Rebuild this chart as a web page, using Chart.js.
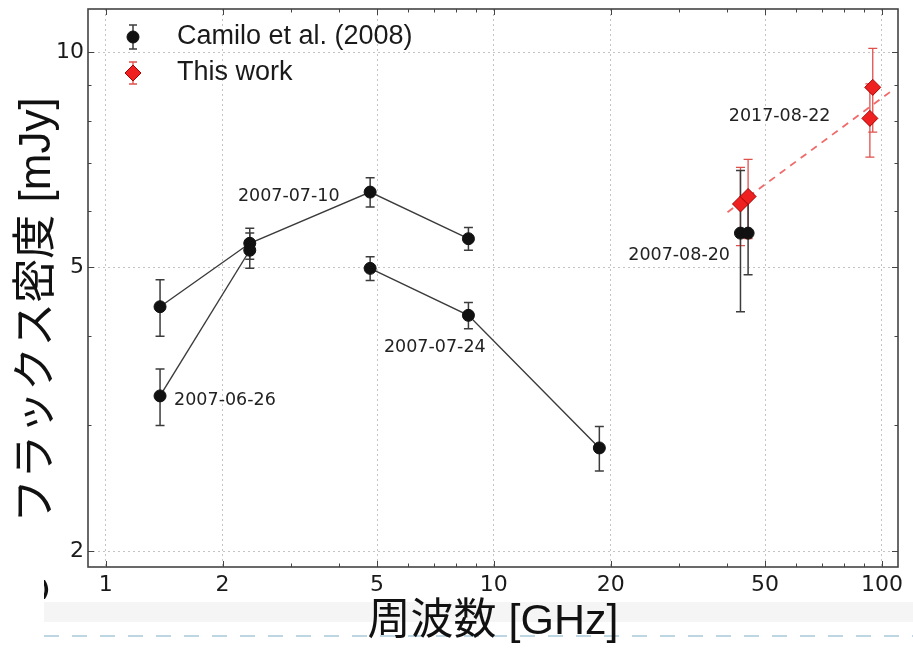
<!DOCTYPE html>
<html>
<head>
<meta charset="utf-8">
<title>フラックス密度</title>
<script src="https://cdn.jsdelivr.net/npm/chart.js@4.4.1/dist/chart.umd.min.js"></script>
<style>
  html, body { margin: 0; padding: 0; background: #fff; }
  #chart { display: block; }
</style>
</head>
<body>
<canvas id="chart" width="913" height="649"></canvas>
<script>
'use strict';

// Camilo et al. (2008), one set per observing date (GHz, mJy, +/- mJy)
var freqJun26 = [1.38, 2.35];
var fluxJun26 = [3.3, 5.28];
var errJun26 = [0.3, 0.3];

var freqJul10 = [1.38, 2.35, 4.8, 8.6];
var fluxJul10 = [4.4, 5.4, 6.37, 5.48];
var errJul10 = [0.4, 0.27, 0.3, 0.2];

var freqJul24 = [4.8, 8.6, 18.7];
var fluxJul24 = [4.98, 4.28, 2.79];
var errJul24 = [0.19, 0.18, 0.2];

var freqAug20 = [43.2, 45.2];
var fluxAug20 = [5.58, 5.58];
var errAug20 = [1.25, 0.7];

// this work, 2017-08-22
var freqThisWork = [43.2, 45.2, 93.1, 94.7];
var fluxThisWork = [6.13, 6.28, 8.08, 8.93];
var errThisWork = [0.77, 0.8, 0.95, 1.2];

// power-law fit through this work
var fitFreq = [40, 105];
var fitFlux = [5.97, 8.8];

// date labels, placed at (freq, flux)
var dateLabels = ['2007-06-26', '2007-07-10', '2007-07-24', '2007-08-20', '2017-08-22'];
var dateLabelFreq = [1.5, 2.19, 5.21, 22.2, 40.3];
var dateLabelFlux = [3.25, 6.29, 3.86, 5.19, 8.13];

var xTickLabels = [1, 2, 5, 10, 20, 50, 100];
var yTickLabels = [2, 5, 10];

var legendLabels = ['Camilo et al. (2008)', 'This work'];

function pts(xs, ys) {
  return xs.map(function (x, i) { return { x: x, y: ys[i] }; });
}

function isOn(v, list) {
  return list.some(function (t) { return Math.abs(v - t) / t < 1e-6; });
}

// minor log ticks: 2..9 times a power of ten
function isMinor(v) {
  var m = v / Math.pow(10, Math.floor(Math.log10(v) + 1e-9));
  return Math.abs(m - Math.round(m)) < 1e-6 && Math.round(m) > 1;
}

function errBar(c, x, y1, y2, cap) {
  c.beginPath();
  c.moveTo(x, y1); c.lineTo(x, y2);
  c.moveTo(x - cap, y1); c.lineTo(x + cap, y1);
  c.moveTo(x - cap, y2); c.lineTo(x + cap, y2);
  c.stroke();
}

// log scale skips a labelled value when min is just below it, so put it back
function keepLabelled(list) {
  return function (s) {
    list.forEach(function (v) {
      if (v > s.min && v < s.max && !s.ticks.some(function (t) { return isOn(t.value, [v]); })) {
        s.ticks.push({ value: v, major: false });
      }
    });
    s.ticks.sort(function (a, b) { return a.value - b.value; });
  };
}

var BLACK = '#111';
var LINE = '#3a3a3a';
var RED = '#ee2020';
var RED_EDGE = '#a80000';
var RED_ERR = '#e0504c';

var ctx = document.getElementById('chart').getContext('2d');

var blackSeries = {
  showLine: true,
  borderColor: LINE,
  borderWidth: 1.4,
  pointRadius: 6,
  pointStyle: 'circle',
  pointBackgroundColor: BLACK,
  pointBorderColor: BLACK,
  pointBorderWidth: 1,
  errorColor: '#3c3c3c',
  errorWidth: 1.5
};

function black(label, f, s, e, line) {
  return Object.assign({}, blackSeries, { label: label, data: pts(f, s), errors: e, showLine: line });
}

var decor = {
  id: 'decor',
  beforeDraw: function (chart) {
    var c = chart.ctx;
    c.save();
    c.fillStyle = '#fff';
    c.fillRect(0, 0, chart.width, chart.height);
    // faint band and dashed rule along the bottom edge
    c.fillStyle = '#f5f5f5';
    c.fillRect(44, 602, chart.width - 44, 20);
    c.strokeStyle = '#a9c9d8';
    c.lineWidth = 1.5;
    c.setLineDash([15, 13]);
    c.beginPath();
    c.moveTo(44, 636);
    c.lineTo(chart.width, 636);
    c.stroke();
    c.setLineDash([]);
    c.beginPath();
    c.rect(44, 570, 20, 40);
    c.clip();
    c.fillStyle = BLACK;
    c.font = 'bold 22px "DejaVu Sans"';
    c.textAlign = 'right';
    c.textBaseline = 'middle';
    c.fillText(')', 50, 590);
    c.restore();
  },
  beforeDatasetsDraw: function (chart) {
    var c = chart.ctx, a = chart.chartArea;
    var xs = chart.scales.x, ys = chart.scales.y;
    c.save();
    c.strokeStyle = '#444';
    c.lineWidth = 1;
    // ticks point inward, on all four sides
    xs.ticks.forEach(function (t) {
      if (t.value <= xs.min || t.value >= xs.max) return;
      var major = isOn(t.value, xTickLabels);
      if (!major && !isMinor(t.value)) return;
      var len = major ? 6 : 3.5;
      var p = Math.round(xs.getPixelForValue(t.value)) + 0.5;
      c.beginPath();
      c.moveTo(p, a.bottom); c.lineTo(p, a.bottom - len);
      c.moveTo(p, a.top); c.lineTo(p, a.top + len);
      c.stroke();
    });
    ys.ticks.forEach(function (t) {
      if (t.value <= ys.min || t.value >= ys.max) return;
      var major = isOn(t.value, yTickLabels);
      if (!major && !isMinor(t.value)) return;
      var len = major ? 6 : 3.5;
      var p = Math.round(ys.getPixelForValue(t.value)) + 0.5;
      c.beginPath();
      c.moveTo(a.left, p); c.lineTo(a.left + len, p);
      c.moveTo(a.right, p); c.lineTo(a.right - len, p);
      c.stroke();
    });
    c.strokeStyle = '#444';
    c.lineWidth = 1.6;
    c.strokeRect(a.left, a.top, a.right - a.left, a.bottom - a.top);

    // error bars under the markers
    chart.data.datasets.forEach(function (ds) {
      if (!ds.errors) return;
      c.strokeStyle = ds.errorColor;
      c.lineWidth = ds.errorWidth;
      ds.data.forEach(function (pt, i) {
        errBar(c, xs.getPixelForValue(pt.x),
          ys.getPixelForValue(pt.y + ds.errors[i]),
          ys.getPixelForValue(pt.y - ds.errors[i]), 4.5);
      });
    });
    c.restore();
  },
  afterDraw: function (chart) {
    var c = chart.ctx, a = chart.chartArea;
    var xs = chart.scales.x, ys = chart.scales.y;
    c.save();

    // date annotations
    c.font = '17.5px "DejaVu Sans"';
    c.fillStyle = '#222';
    c.textAlign = 'left';
    c.textBaseline = 'middle';
    dateLabels.forEach(function (t, i) {
      c.fillText(t, xs.getPixelForValue(dateLabelFreq[i]), ys.getPixelForValue(dateLabelFlux[i]));
    });

    // legend, top left inside the axes
    var mx = a.left + 45;
    var rows = [37, 73];
    c.strokeStyle = '#3c3c3c';
    c.lineWidth = 1.5;
    errBar(c, mx, rows[0] - 12, rows[0] + 12, 4);
    c.fillStyle = BLACK;
    c.strokeStyle = BLACK;
    c.lineWidth = 1;
    Chart.helpers.drawPoint(c, { pointStyle: 'circle', radius: 6, rotation: 0, borderWidth: 1 }, mx, rows[0]);
    c.strokeStyle = RED_ERR;
    c.lineWidth = 1.3;
    errBar(c, mx, rows[1] - 11, rows[1] + 11, 4);
    c.fillStyle = RED;
    c.strokeStyle = RED_EDGE;
    c.lineWidth = 1;
    Chart.helpers.drawPoint(c, { pointStyle: 'rectRot', radius: 8, rotation: 0, borderWidth: 1 }, mx, rows[1]);

    c.font = '27px "Liberation Sans", "Noto Sans CJK JP"';
    c.fillStyle = '#1a1a1a';
    c.textAlign = 'left';
    c.textBaseline = 'middle';
    legendLabels.forEach(function (t, i) {
      c.fillText(t, a.left + 89, rows[i]);
    });

    // y axis title
    c.translate(38, 310);
    c.rotate(-Math.PI / 2);
    c.font = '44px "Liberation Sans", "Noto Sans CJK JP"';
    c.textAlign = 'center';
    c.fillStyle = '#111';
    c.fillText('フラックス密度 [mJy]', 0, 0);
    c.restore();
  }
};

var chart = new Chart(ctx, {
  type: 'scatter',
  data: {
    datasets: [
      {
        label: 'This work',
        data: pts(freqThisWork, fluxThisWork),
        errors: errThisWork,
        errorColor: RED_ERR,
        errorWidth: 1.3,
        showLine: false,
        pointStyle: 'rectRot',
        pointRadius: 8,
        pointBackgroundColor: RED,
        pointBorderColor: RED_EDGE,
        pointBorderWidth: 1
      },
      {
        label: 'fit',
        data: pts(fitFreq, fitFlux),
        showLine: true,
        borderColor: '#f06a6a',
        borderWidth: 1.8,
        borderDash: [7, 6],
        pointRadius: 0
      },
      black('2007-06-26', freqJun26, fluxJun26, errJun26, true),
      black('2007-07-10', freqJul10, fluxJul10, errJul10, true),
      black('2007-07-24', freqJul24, fluxJul24, errJul24, true),
      black('2007-08-20', freqAug20, fluxAug20, errAug20, false)
    ]
  },
  options: {
    responsive: false,
    animation: false,
    events: [],
    layout: { padding: { top: 3, right: 15, bottom: 0, left: 0 } },
    plugins: {
      legend: { display: false },
      tooltip: { enabled: false }
    },
    scales: {
      x: {
        type: 'logarithmic',
        min: 0.9,
        max: 110,
        afterBuildTicks: keepLabelled(xTickLabels),
        afterFit: function (s) { s.height = 82; s.paddingLeft = 0; s.paddingRight = 0; },
        border: { display: false, dash: [2, 3] },
        grid: {
          drawTicks: false,
          lineWidth: 1,
          color: function (c) { return c.tick && isOn(c.tick.value, xTickLabels) ? '#c4c4c4' : 'rgba(0,0,0,0)'; }
        },
        ticks: {
          autoSkip: false,
          maxRotation: 0,
          padding: 5,
          color: '#1a1a1a',
          font: { family: 'DejaVu Sans', size: 22 },
          callback: function (v) { return isOn(v, xTickLabels) ? String(v) : ''; }
        },
        title: {
          display: true,
          text: '周波数 [GHz]',
          color: '#111',
          font: { family: '"Liberation Sans", "Noto Sans CJK JP"', size: 43 },
          padding: { top: 0, bottom: 1 }
        }
      },
      y: {
        type: 'logarithmic',
        min: 1.9,
        max: 11.5,
        afterBuildTicks: keepLabelled(yTickLabels),
        afterFit: function (s) { s.width = 88; s.paddingTop = 0; s.paddingBottom = 0; },
        border: { display: false, dash: [2, 3] },
        grid: {
          drawTicks: false,
          lineWidth: 1,
          color: function (c) { return c.tick && isOn(c.tick.value, yTickLabels) ? '#c4c4c4' : 'rgba(0,0,0,0)'; }
        },
        ticks: {
          autoSkip: false,
          padding: 4,
          color: '#1a1a1a',
          font: { family: 'DejaVu Sans', size: 22 },
          callback: function (v) { return isOn(v, yTickLabels) ? String(v) : ''; }
        }
      }
    }
  },
  plugins: [decor]
});
</script>
</body>
</html>
